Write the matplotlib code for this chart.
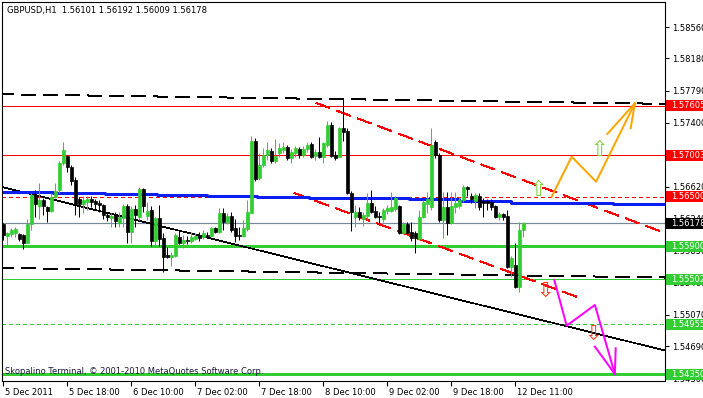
import numpy as np
import matplotlib.pyplot as plt
from matplotlib.patches import Rectangle
from matplotlib.transforms import blended_transform_factory, ScaledTranslation

plt.rcParams['font.family'] = ['DejaVu Sans']
plt.rcParams['lines.scale_dashes'] = False

title = "GBPUSD,H1  1.56101 1.56192 1.56009 1.56178"
footer = "Skopalino Terminal, \u00a9 2001-2010 MetaQuotes Software Corp."

# hourly candles
opens = [1.5617, 1.5603, 1.5605, 1.5606, 1.5605, 1.5604, 1.5594, 1.5617, 1.5652, 1.5639,
         1.5646, 1.5638, 1.5633, 1.5650, 1.5658, 1.5691, 1.5700, 1.5686, 1.5671, 1.5647,
         1.5641, 1.5644, 1.5647, 1.5645, 1.5643, 1.5640, 1.5628, 1.5624, 1.5628, 1.5618,
         1.5624, 1.5639, 1.5607, 1.5635, 1.5626, 1.5660, 1.5627, 1.5634, 1.5597, 1.5624,
         1.5600, 1.5580, 1.5577, 1.5578, 1.5601, 1.5594, 1.5598, 1.5597, 1.5599, 1.5604,
         1.5601, 1.5604, 1.5603, 1.5612, 1.5607, 1.5630, 1.5620, 1.5627, 1.5612, 1.5604,
         1.5603, 1.5611, 1.5630, 1.5718, 1.5673, 1.5689, 1.5701, 1.5706, 1.5694, 1.5703,
         1.5707, 1.5711, 1.5697, 1.5703, 1.5708, 1.5701, 1.5708, 1.5714, 1.5700, 1.5704,
         1.5698, 1.5713, 1.5737, 1.5701, 1.5698, 1.5734, 1.5730, 1.5655, 1.5626, 1.5632,
         1.5623, 1.5627, 1.5643, 1.5633, 1.5627, 1.5623, 1.5633, 1.5633, 1.5635, 1.5639,
         1.5606, 1.5617, 1.5607, 1.5606, 1.5599, 1.5626, 1.5641, 1.5638, 1.5717, 1.5701,
         1.5622, 1.5638, 1.5618, 1.5638, 1.5639, 1.5646, 1.5662, 1.5651, 1.5645, 1.5651,
         1.5645, 1.5645, 1.5644, 1.5639, 1.5626, 1.5629, 1.5627, 1.5565, 1.5567, 1.5541,
         1.56101]
highs = [1.5618, 1.5607, 1.5612, 1.5613, 1.5606, 1.5605, 1.5623, 1.5655, 1.5658, 1.5667,
         1.5649, 1.5639, 1.5655, 1.5667, 1.5694, 1.5717, 1.5701, 1.5689, 1.5674, 1.5650,
         1.5651, 1.5651, 1.5651, 1.5647, 1.5646, 1.5641, 1.5630, 1.5630, 1.5632, 1.5632,
         1.5641, 1.5641, 1.5639, 1.5640, 1.5662, 1.5661, 1.5644, 1.5639, 1.5626, 1.5640,
         1.5606, 1.5589, 1.5583, 1.5606, 1.5610, 1.5604, 1.5603, 1.5607, 1.5606, 1.5607,
         1.5610, 1.5607, 1.5613, 1.5613, 1.5637, 1.5637, 1.5630, 1.5632, 1.5623, 1.5613,
         1.5622, 1.5646, 1.5724, 1.5721, 1.5703, 1.5709, 1.5717, 1.5709, 1.5720, 1.5715,
         1.5717, 1.5713, 1.5708, 1.5712, 1.5711, 1.5712, 1.5717, 1.5717, 1.5708, 1.5723,
         1.5717, 1.5742, 1.5741, 1.5706, 1.5735, 1.5769, 1.5734, 1.5657, 1.5640, 1.5638,
         1.5632, 1.5655, 1.5658, 1.5639, 1.5632, 1.5637, 1.5640, 1.5656, 1.5651, 1.5640,
         1.5620, 1.5620, 1.5620, 1.5609, 1.5634, 1.5646, 1.5656, 1.5734, 1.5719, 1.5703,
         1.5656, 1.5656, 1.5656, 1.5656, 1.5650, 1.5664, 1.5663, 1.5655, 1.5655, 1.5655,
         1.5649, 1.5647, 1.5647, 1.5640, 1.5632, 1.5630, 1.5634, 1.5578, 1.5594, 1.5620,
         1.56192]
lows = [1.5598, 1.5592, 1.5601, 1.5601, 1.5597, 1.5587, 1.5594, 1.5610, 1.5626, 1.5623,
        1.5628, 1.5620, 1.5632, 1.5649, 1.5655, 1.5689, 1.5680, 1.5664, 1.5628, 1.5626,
        1.5630, 1.5634, 1.5638, 1.5634, 1.5632, 1.5623, 1.5621, 1.5613, 1.5613, 1.5613,
        1.5613, 1.5594, 1.5594, 1.5613, 1.5622, 1.5632, 1.5622, 1.5590, 1.5592, 1.5590,
        1.5559, 1.5576, 1.5566, 1.5577, 1.5593, 1.5588, 1.5593, 1.5594, 1.5598, 1.5597,
        1.5599, 1.5601, 1.5601, 1.5606, 1.5606, 1.5610, 1.5617, 1.5607, 1.5595, 1.5598,
        1.5601, 1.5609, 1.5630, 1.5669, 1.5671, 1.5686, 1.5695, 1.5691, 1.5691, 1.5698,
        1.5703, 1.5695, 1.5691, 1.5698, 1.5697, 1.5698, 1.5704, 1.5697, 1.5695, 1.5697,
        1.5691, 1.5711, 1.5698, 1.5695, 1.5698, 1.5718, 1.5654, 1.5609, 1.5613, 1.5622,
        1.5615, 1.5622, 1.5630, 1.5624, 1.5618, 1.5620, 1.5629, 1.5632, 1.5633, 1.5605,
        1.5605, 1.5605, 1.5597, 1.5582, 1.5598, 1.5624, 1.5630, 1.5634, 1.5697, 1.5620,
        1.5600, 1.5604, 1.5617, 1.5630, 1.5637, 1.5644, 1.5651, 1.5643, 1.5637, 1.5634,
        1.5626, 1.5634, 1.5634, 1.5624, 1.5622, 1.5622, 1.5564, 1.5553, 1.5540, 1.5535,
        1.56009]
closes = [1.5604, 1.5606, 1.5610, 1.5611, 1.5599, 1.5594, 1.5617, 1.5652, 1.5641, 1.5646,
          1.5639, 1.5633, 1.5650, 1.5657, 1.5691, 1.5707, 1.5686, 1.5669, 1.5641, 1.5641,
          1.5646, 1.5647, 1.5644, 1.5641, 1.5640, 1.5628, 1.5626, 1.5627, 1.5621, 1.5626,
          1.5639, 1.5607, 1.5635, 1.5628, 1.5660, 1.5639, 1.5633, 1.5597, 1.5624, 1.5599,
          1.5577, 1.5577, 1.5580, 1.5604, 1.5594, 1.5598, 1.5597, 1.5601, 1.5603, 1.5600,
          1.5606, 1.5603, 1.5612, 1.5607, 1.5630, 1.5620, 1.5627, 1.5610, 1.5603, 1.5603,
          1.5612, 1.5632, 1.5718, 1.5672, 1.5689, 1.5701, 1.5707, 1.5694, 1.5700, 1.5709,
          1.5711, 1.5697, 1.5704, 1.5709, 1.5701, 1.5708, 1.5713, 1.5698, 1.5704, 1.5698,
          1.5715, 1.5737, 1.5700, 1.5697, 1.5734, 1.5729, 1.5655, 1.5632, 1.5632, 1.5626,
          1.5628, 1.5643, 1.5632, 1.5626, 1.5626, 1.5634, 1.5637, 1.5638, 1.5649, 1.5606,
          1.5617, 1.5606, 1.5600, 1.5600, 1.5626, 1.5644, 1.5647, 1.5713, 1.5701, 1.5622,
          1.5638, 1.5618, 1.5639, 1.5643, 1.5646, 1.5662, 1.5660, 1.5647, 1.5652, 1.5638,
          1.5643, 1.5643, 1.5638, 1.5626, 1.5629, 1.5626, 1.5565, 1.5576, 1.5541, 1.5610,
          1.56178]

time_ticks = [0, 16, 32, 48, 64, 80, 96, 112, 128]
time_labels = ["5 Dec 2011", "5 Dec 18:00", "6 Dec 10:00", "7 Dec 02:00", "7 Dec 18:00",
               "8 Dec 10:00", "9 Dec 02:00", "9 Dec 18:00", "12 Dec 11:00"]
price_ticks = [1.58560, 1.58180, 1.57790, 1.57400, 1.57010, 1.56620,
               1.56240, 1.55850, 1.55460, 1.55070, 1.54690, 1.54300]

# horizontal levels
red_levels = [1.57605, 1.57003]
red_dash_level = 1.56500
bid_level = 1.56178
green_thick_levels = [1.55900, 1.54350]
green_thin_level = 1.55502
green_dash_level = 1.54955

# stepped moving average (bar where each step starts, value)
ma_bars = [-1, 12.5, 25.5, 38.5, 51, 63.5, 76.5, 89, 101.5, 114, 127, 140, 152.5, 166]
ma_vals = [1.5656, 1.5655, 1.5654, 1.5652, 1.5651, 1.5650, 1.5649, 1.5648, 1.5647,
           1.5645, 1.5643, 1.5642, 1.5641, 1.5641]

# drawn objects (bar, price)
trend_bars, trend_prices = [-1, 166], [1.56628, 1.54629]
chan_top_bars, chan_top_prices = [-1, 166], [1.57745, 1.57628]
chan_bot_bars, chan_bot_prices = [-1, 166], [1.55638, 1.55521]
red_up_bars, red_up_prices = [78.2, 165.4], [1.57639, 1.56062]
red_lo_bars, red_lo_prices = [72.7, 144.2], [1.56547, 1.55273]

orange_bars = [137.1, 142.1, 148.2, 157.9]
orange_prices = [1.56502, 1.56987, 1.56684, 1.57635]
orange_barbs = [(151.0, 1.57263), (156.85, 1.57332)]
pink_bars = [137.75, 140.85, 147.9, 152.9]
pink_prices = [1.55492, 1.54937, 1.55188, 1.54351]
pink_barbs = [(147.9, 1.54683), (153.1, 1.54663)]
up_marks = [(133.7, 1.56583), (148.9, 1.57069)]
down_marks = [(135.4, 1.55362), (147.4, 1.54837)]

price_boxes = [(1.57605, 'red'), (1.57003, 'red'), (1.56500, 'red'), (1.56178, 'black'),
               (1.55900, '#32cd32'), (1.55502, '#32cd32'), (1.54955, '#32cd32'),
               (1.54350, '#32cd32')]

W, H = 703, 398
fig = plt.figure(figsize=(W / 100, H / 100), dpi=100)
left, right, top, bottom = 2.3, 665, 2.3, 381
ax = fig.add_axes([left / W, 1 - bottom / H, (right - left) / W, (bottom - top) / H])
ymin, ymax = 1.54266, 1.58860
ax.set_xlim(-0.25, 165.43)
ax.set_ylim(ymin, ymax)

GREEN = '#32cd32'
px = 0.72  # one pixel in points
thin = 0.5  # crisp one-pixel line when not antialiased

# levels
for lv in red_levels:
    ax.axhline(lv, color='red', lw=thin, zorder=2, antialiased=False)
ax.axhline(red_dash_level, color='red', lw=thin, dashes=(3 * px, 3 * px), zorder=2,
           antialiased=False)
ax.axhline(bid_level, color='#778899', lw=1.2 * px, zorder=2)
for lv in green_thick_levels:
    ax.axhline(lv, color=GREEN, lw=3 * px, zorder=2)
ax.axhline(green_thin_level, color=GREEN, lw=thin, zorder=2, antialiased=False)
ax.axhline(green_dash_level, color=GREEN, lw=thin, dashes=(3 * px, 3 * px), zorder=2,
           antialiased=False)

ax.step(ma_bars, ma_vals, where='post', color='#0a1ef0', lw=3 * px, zorder=2.2)

ax.plot(trend_bars, trend_prices, color='black', lw=thin, zorder=2.1, antialiased=False)
for bx, pr in [(chan_top_bars, chan_top_prices), (chan_bot_bars, chan_bot_prices)]:
    ax.plot(bx, pr, color='black', lw=thin, dashes=(15 * px, 8 * px), zorder=2.1,
            antialiased=False)
for bx, pr in [(red_up_bars, red_up_prices), (red_lo_bars, red_lo_prices)]:
    ax.plot(bx, pr, color='red', lw=thin, dashes=(14 * px, 8 * px), zorder=2.1,
            antialiased=False)

# candles
o = np.array(opens)
c = np.array(closes)
idx = np.arange(len(o))
cols = np.where(c >= o, GREEN, 'black')
ax.vlines(idx, lows, highs, colors=cols, lw=px, zorder=3)
ax.bar(idx, np.abs(c - o), bottom=np.minimum(o, c), width=0.7, color=cols,
       edgecolor=cols, linewidth=0.5, zorder=3.1)

# forecast arrows
ax.plot(orange_bars, orange_prices, color='#ffa500', lw=2 * px, zorder=4)
for b, p in orange_barbs:
    ax.plot([b, orange_bars[-1]], [p, orange_prices[-1]], color='#ffa500', lw=2 * px, zorder=4)
ax.plot(pink_bars, pink_prices, color='#ff00ff', lw=2 * px, zorder=4)
for b, p in pink_barbs:
    ax.plot([b, pink_bars[-1]], [p, pink_prices[-1]], color='#ff00ff', lw=2 * px, zorder=4)
for b, p in up_marks:
    ax.text(b, p, '\u21e7', color='#7ccf3a', fontsize=15, ha='center', va='center', zorder=5)
for b, p in down_marks:
    ax.text(b, p, '\u21e9', color='#ff3a10', fontsize=15, ha='center', va='center', zorder=5)

# axes style
for s in ax.spines.values():
    s.set_linewidth(0.8)
    s.set_color('black')
ax.yaxis.tick_right()
ax.set_yticks(price_ticks)
ax.set_yticklabels([f"{v:.5f}" for v in price_ticks])
ax.tick_params(axis='y', length=3, width=0.8, pad=2, labelsize=6)
ax.set_xticks(time_ticks)
ax.set_xticklabels(time_labels)
ax.tick_params(axis='x', length=3.5, width=0.8, pad=1.5, labelsize=6)
shift = ScaledTranslation(2 / 100, 0, fig.dpi_scale_trans)
for lab in ax.get_xticklabels():
    lab.set_horizontalalignment('left')
    lab.set_transform(lab.get_transform() + shift)

# price boxes on the scale
trans = blended_transform_factory(fig.transFigure, ax.transData)
box_h = 11 * (ymax - ymin) / (bottom - top)
for p, col in price_boxes:
    ax.add_patch(Rectangle((666 / W, p - box_h / 2), 1, box_h, transform=trans,
                           facecolor=col, edgecolor='none', clip_on=False, zorder=6))
    ax.text(671.5 / W, p, f"{p:.5f}", transform=trans, color='white', fontsize=6,
            va='center', ha='left', clip_on=False, zorder=7)

fig.text(7 / W, 1 - 11 / H, title, fontsize=6, va='center', ha='left')
ax.text(5 / W, 1 - 372 / H, footer, transform=fig.transFigure, fontsize=6,
        va='center', ha='left', color='#1a1a3a', zorder=6)

fig.savefig('out.png', dpi=100)
